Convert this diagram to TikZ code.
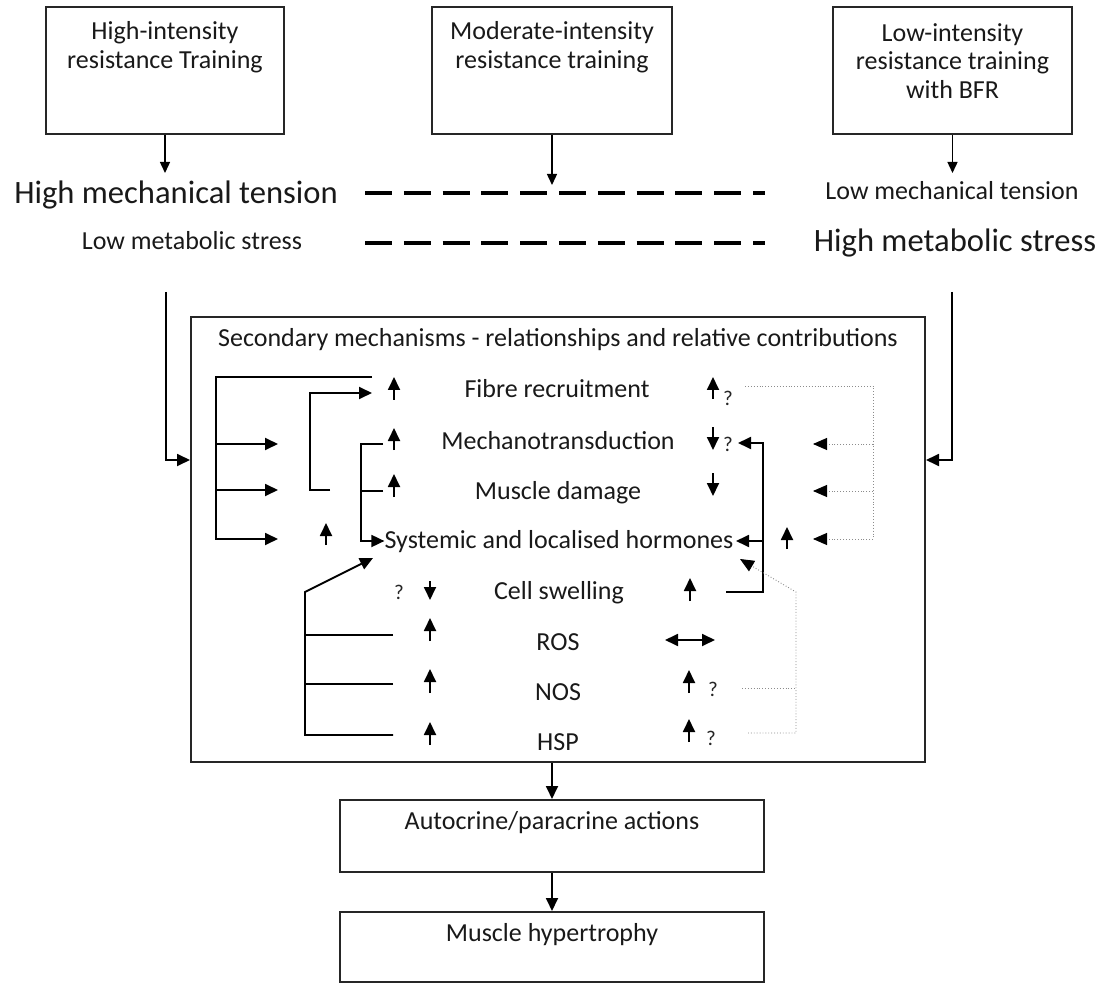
\documentclass[tikz,border=0pt]{standalone}
\usepackage{fontspec}
\setmainfont{Carlito}
\usetikzlibrary{arrows.meta}
\begin{document}
\begin{tikzpicture}[x=1pt,y=-1pt,
  box/.style={draw=black!85, line width=2pt, inner sep=0pt},
  txt/.style={font=\fontsize{26}{28.5}\selectfont, inner sep=0pt, align=center, text=black!90},
  rowtxt/.style={txt, text height=18.5pt, text depth=3pt},
  bigtxt/.style={font=\fontsize{32.6}{36}\selectfont, inner sep=0pt, text=black!90, text height=23pt, text depth=5pt},
  qm/.style={font=\fontsize{21}{22}\selectfont, inner sep=0pt, text=black!85},
  conn/.style={line width=1.8pt, draw=black},
  arr/.style={conn, -{Triangle[length=13pt,width=12pt]}},
  dblarr/.style={conn, {Triangle[length=13pt,width=12pt]}-{Triangle[length=13pt,width=12pt]}},
  sarr/.style={line width=1.4pt, -{Triangle[length=11pt,width=10pt]}},
  dots/.style={draw=black!45, line width=0.9pt, dotted},
  darr/.style={dots, -{Triangle[length=14pt,width=12pt,color=black]}},
  tdash/.style={draw=black, line width=4pt, dash pattern=on 27pt off 11.8pt},
]
\useasboundingbox (0,0) rectangle (1101,984);

% top boxes
\node[box, minimum width=238pt, minimum height=127pt] (b1) at (165,70.5) {};
\node[box, minimum width=240pt, minimum height=127pt] (b2) at (552,70.5) {};
\node[box, minimum width=239pt, minimum height=127pt] (b3) at (952.5,70.5) {};
\node[txt] (b1t) at (165,47) {High-intensity\\resistance Training};
\node[txt] (b2t) at (552,47) {Moderate-intensity\\resistance training};
\node[txt] (b3t) at (952.5,61) {Low-intensity\\resistance training\\with BFR};

% tension / stress labels
\node[bigtxt] (hmt) at (176,195) {High mechanical tension};
\node[rowtxt] (lms) at (192,242) {Low metabolic stress};
\node[rowtxt] (lmt) at (952,192) {Low mechanical tension};
\node[bigtxt] (hms) at (955,243) {High metabolic stress};

\coordinate (t1) at (165,173);
\coordinate (t2) at (552,185);
\coordinate (t3) at (952.5,173);
\draw[sarr] (b1.south) -- (t1);
\draw[sarr] (b2.south) -- (t2);
\draw[sarr] (b3.south) -- (t3);

\coordinate (d1a) at (365,193); \coordinate (d1b) at (765,193);
\coordinate (d2a) at (365,243); \coordinate (d2b) at (765,243);
\draw[tdash] (d1a) -- (d1b);
\draw[tdash] (d2a) -- (d2b);

% big box
\node[box, minimum width=734pt, minimum height=445pt] (big) at (558,539.5) {};
\node[txt] (title) at (558,340) {Secondary mechanisms - relationships and relative contributions};

% long side connectors
\coordinate (L1) at (166,292); \coordinate (L2) at (166,460);
\coordinate (R1) at (952,292); \coordinate (R2) at (952,460);
\draw[arr] (L1) -- (L2) -- (big.west |- L2);
\draw[arr] (R1) -- (R2) -- (big.east |- R2);

% row labels
\node[rowtxt] (fr) at (557,390) {Fibre recruitment};
\node[rowtxt] (mt) at (558,442) {Mechanotransduction};
\node[rowtxt] (md) at (558,492) {Muscle damage};
\node[rowtxt] (sh) at (559,541) {Systemic and localised hormones};
\node[rowtxt] (cs) at (559,592) {Cell swelling};
\node[rowtxt] (ros) at (558,643) {ROS};
\node[rowtxt] (nos) at (558,693) {NOS};
\node[rowtxt] (hsp) at (558,743) {HSP};

% left connectors
\coordinate (a1) at (372,377); \coordinate (a2) at (216,377);
\coordinate (a3) at (216,539); \coordinate (a3e) at (278,539);
\coordinate (a4) at (216,444); \coordinate (a4e) at (278,444);
\coordinate (a5) at (216,490); \coordinate (a5e) at (278,490);
\draw[arr] (a1) -- (a2) -- (a3) -- (a3e);
\draw[arr] (a4) -- (a4e);
\draw[arr] (a5) -- (a5e);

\coordinate (pB1) at (330,490); \coordinate (pB2) at (310,490);
\coordinate (pB3) at (310,393); \coordinate (pB4) at (372,393);
\draw[arr] (pB1) -- (pB2) -- (pB3) -- (pB4);

\coordinate (pC1) at (383,444); \coordinate (pC2) at (361,444);
\coordinate (pC3) at (361,541); \coordinate (pC4) at (383,491); \coordinate (pC5) at (361,491);
\draw[arr] (pC1) -- (pC2) -- (pC3) -- (sh.west);
\draw[conn] (pC4) -- (pC5);

\coordinate (pD1) at (393,735); \coordinate (pD2) at (305,735);
\coordinate (pD3) at (305,592); \coordinate (pD4) at (373,558);
\coordinate (pD5) at (393,635); \coordinate (pD6) at (305,635);
\coordinate (pD7) at (393,684); \coordinate (pD8) at (305,684);
\draw[arr] (pD1) -- (pD2) -- (pD3) -- (pD4);
\draw[conn] (pD5) -- (pD6);
\draw[conn] (pD7) -- (pD8);

% right solid connectors
\coordinate (r1) at (726,592); \coordinate (r2) at (763,592);
\coordinate (r3) at (763,443); \coordinate (r3e) at (738,443);
\coordinate (r4) at (763,541); \coordinate (r4e) at (736,541);
\draw[arr] (r1) -- (r2) -- (r3) -- (r3e);
\draw[arr] (r4) -- (r4e);

% right dotted connectors
\coordinate (q1) at (745,386); \coordinate (q2) at (873,386); \coordinate (q3) at (873,539);
\draw[dots] (q1) -- (q2) -- (q3);
\coordinate (q4) at (873,444); \coordinate (q4e) at (813,444);
\coordinate (q5) at (873,491); \coordinate (q5e) at (813,491);
\coordinate (q6e) at (813,539);
\draw[darr] (q4) -- (q4e);
\draw[darr] (q5) -- (q5e);
\draw[darr] (q3) -- (q6e);
\coordinate (s1) at (742,688); \coordinate (s2) at (796,688);
\coordinate (s3) at (748,733); \coordinate (s4) at (796,733);
\coordinate (s5) at (796,592); \coordinate (s6) at (740,559);
\draw[dots] (s1) -- (s2);
\draw[darr] (s3) -- (s4) -- (s5) -- (s6);

% small indicator arrows (left column)
\draw[arr] (394,400) -- (394,377);
\draw[arr] (394,450) -- (394,428);
\draw[arr] (394,497) -- (394,474);
\draw[arr] (326,545) -- (326,523);
\draw[arr] (430,581) -- (430,600);
\draw[arr] (430,641) -- (430,618);
\draw[arr] (430,693) -- (430,669);
\draw[arr] (430,745) -- (430,722);
\node[qm] (q_cs) at (399,592) {?};

% small indicator arrows (right column)
\draw[arr] (713,399) -- (713,377);
\draw[arr] (713,427) -- (713,450);
\draw[arr] (713,473) -- (713,496);
\draw[arr] (787,549) -- (787,527);
\draw[arr] (690,601) -- (690,578);
\draw[dblarr] (665,640) -- (715,640);
\draw[arr] (689,693) -- (689,670);
\draw[arr] (689,742) -- (689,719);
\node[qm] (q_fr) at (728,398) {?};
\node[qm] (q_mt) at (728,444) {?};
\node[qm] (q_nos) at (713,689) {?};
\node[qm] (q_hsp) at (711,738) {?};

% bottom boxes
\node[box, minimum width=424pt, minimum height=72pt] (auto) at (552,836) {};
\node[txt] (autot) at (552,823) {Autocrine/paracrine actions};
\node[box, minimum width=424pt, minimum height=70pt] (hyp) at (552,947) {};
\node[txt] (hypt) at (552,935) {Muscle hypertrophy};
\draw[arr] (auto.north |- big.south) -- (auto.north);
\draw[arr] (auto.south) -- (hyp.north);
\end{tikzpicture}
\end{document}
